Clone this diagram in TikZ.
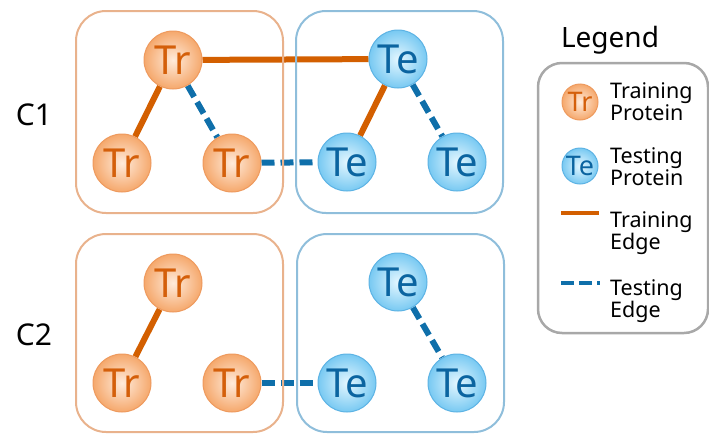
\documentclass[tikz,border=0pt]{standalone}
\usepackage{fontspec}
\setmainfont{Noto Sans}
\usetikzlibrary{backgrounds}

\definecolor{trText}{HTML}{D45F0A}
\definecolor{trIn}{HTML}{FFEBDB}
\definecolor{trOut}{HTML}{F5A86C}
\definecolor{trRim}{HTML}{EE9A5E}
\definecolor{teText}{HTML}{0B64A0}
\definecolor{teIn}{HTML}{E4F7FF}
\definecolor{teOut}{HTML}{78C9F2}
\definecolor{teRim}{HTML}{5DB3E4}
\definecolor{trEdge}{HTML}{D35F00}
\definecolor{teEdge}{HTML}{0F6FAA}
\definecolor{trFrame}{HTML}{E9B28C}
\definecolor{teFrame}{HTML}{8FBEDB}
\definecolor{legFrame}{HTML}{A8A8A8}

\tikzset{
  protein/.style={circle, minimum size=58pt, inner sep=0pt, line width=1pt,
    font=\fontsize{40}{40}\selectfont},
  trnode/.style={protein, draw=trRim, shading=radial, inner color=trIn, outer color=trOut, text=trText},
  tenode/.style={protein, draw=teRim, shading=radial, inner color=teIn, outer color=teOut, text=teText},
  trsmall/.style={trnode, minimum size=36pt, font=\fontsize{27}{27}\selectfont},
  tesmall/.style={tenode, minimum size=36pt, font=\fontsize{27}{27}\selectfont},
  trainedge/.style={draw=trEdge, line width=6pt},
  testedge/.style={draw=teEdge, line width=6pt, dash pattern=on 13pt off 6pt},
  trframe/.style={draw=trFrame, line width=2pt, rounded corners=30pt},
  teframe/.style={draw=teFrame, line width=2pt, rounded corners=30pt},
  rowlabel/.style={font=\fontsize{30}{30}\selectfont, text=black},
  legtext/.style={font=\fontsize{21.5}{20}\selectfont, align=left, anchor=west, inner sep=0pt, text=black},
}

\begin{document}
\begin{tikzpicture}[x=1pt, y=-1pt]
  \useasboundingbox (0,0) rectangle (709,434);

  % cluster frames
  \draw[trframe] (76,11) rectangle (283,213);
  \draw[teframe] (296,11) rectangle (503,213);
  \draw[trframe] (76,234) rectangle (283,432);
  \draw[teframe] (297,234) rectangle (504,432);

  % row labels
  \node[rowlabel] (c1) at (34,115) {C1};
  \node[rowlabel] (c2) at (34,335) {C2};

  % C1 proteins
  \node[trnode] (a1) at (173,60) {Tr};
  \node[trnode] (a2) at (122,163) {Tr};
  \node[trnode] (a3) at (232,163) {Tr};
  \node[tenode] (b1) at (398,59) {Te};
  \node[tenode] (b2) at (347,162) {Te};
  \node[tenode] (b3) at (457,162) {Te};

  % C2 proteins
  \node[trnode] (p1) at (173,283) {Tr};
  \node[trnode] (p2) at (122,383) {Tr};
  \node[trnode] (p3) at (232,383) {Tr};
  \node[tenode] (q1) at (398,282) {Te};
  \node[tenode] (q2) at (347,383) {Te};
  \node[tenode] (q3) at (457,383) {Te};

  \begin{pgfonlayer}{background}
    % C1 interactions
    \draw[trainedge] (a1) -- (b1);
    \draw[trainedge] (a1) -- (a2);
    \draw[trainedge] (b1) -- (b2);
    \draw[testedge] (a1) -- (a3);
    \draw[testedge] (a3) -- (b2);
    \draw[testedge] (b1) -- (b3);
    % C2 interactions
    \draw[trainedge] (p1) -- (p2);
    \draw[testedge] (p3) -- (q2);
    \draw[testedge] (q1) -- (q3);
  \end{pgfonlayer}

  % legend
  \node[font=\fontsize{28}{28}\selectfont, anchor=base] (legtitle) at (610,47) {Legend};
  \draw[draw=legFrame, line width=2.5pt, rounded corners=24pt] (538,63) rectangle (708,333);

  \node[trsmall] (ltr) at (580,102) {Tr};
  \node[legtext] (ltrt) at (610,102) {Training\\Protein};
  \node[tesmall] (lte) at (580,166) {Te};
  \node[legtext] (ltet) at (610,167) {Testing\\Protein};

  \coordinate (e1a) at (561,213);
  \coordinate (e1b) at (599,213);
  \draw[draw=trEdge, line width=4pt] (e1a) -- (e1b);
  \node[legtext] (le1) at (610,233) {Training\\Edge};

  \coordinate (e2a) at (561,283);
  \coordinate (e2b) at (600,283);
  \draw[draw=teEdge, line width=4pt, dash pattern=on 13pt off 5pt] (e2a) -- (e2b);
  \node[legtext] (le2) at (610,301) {Testing\\Edge};
\end{tikzpicture}
\end{document}
